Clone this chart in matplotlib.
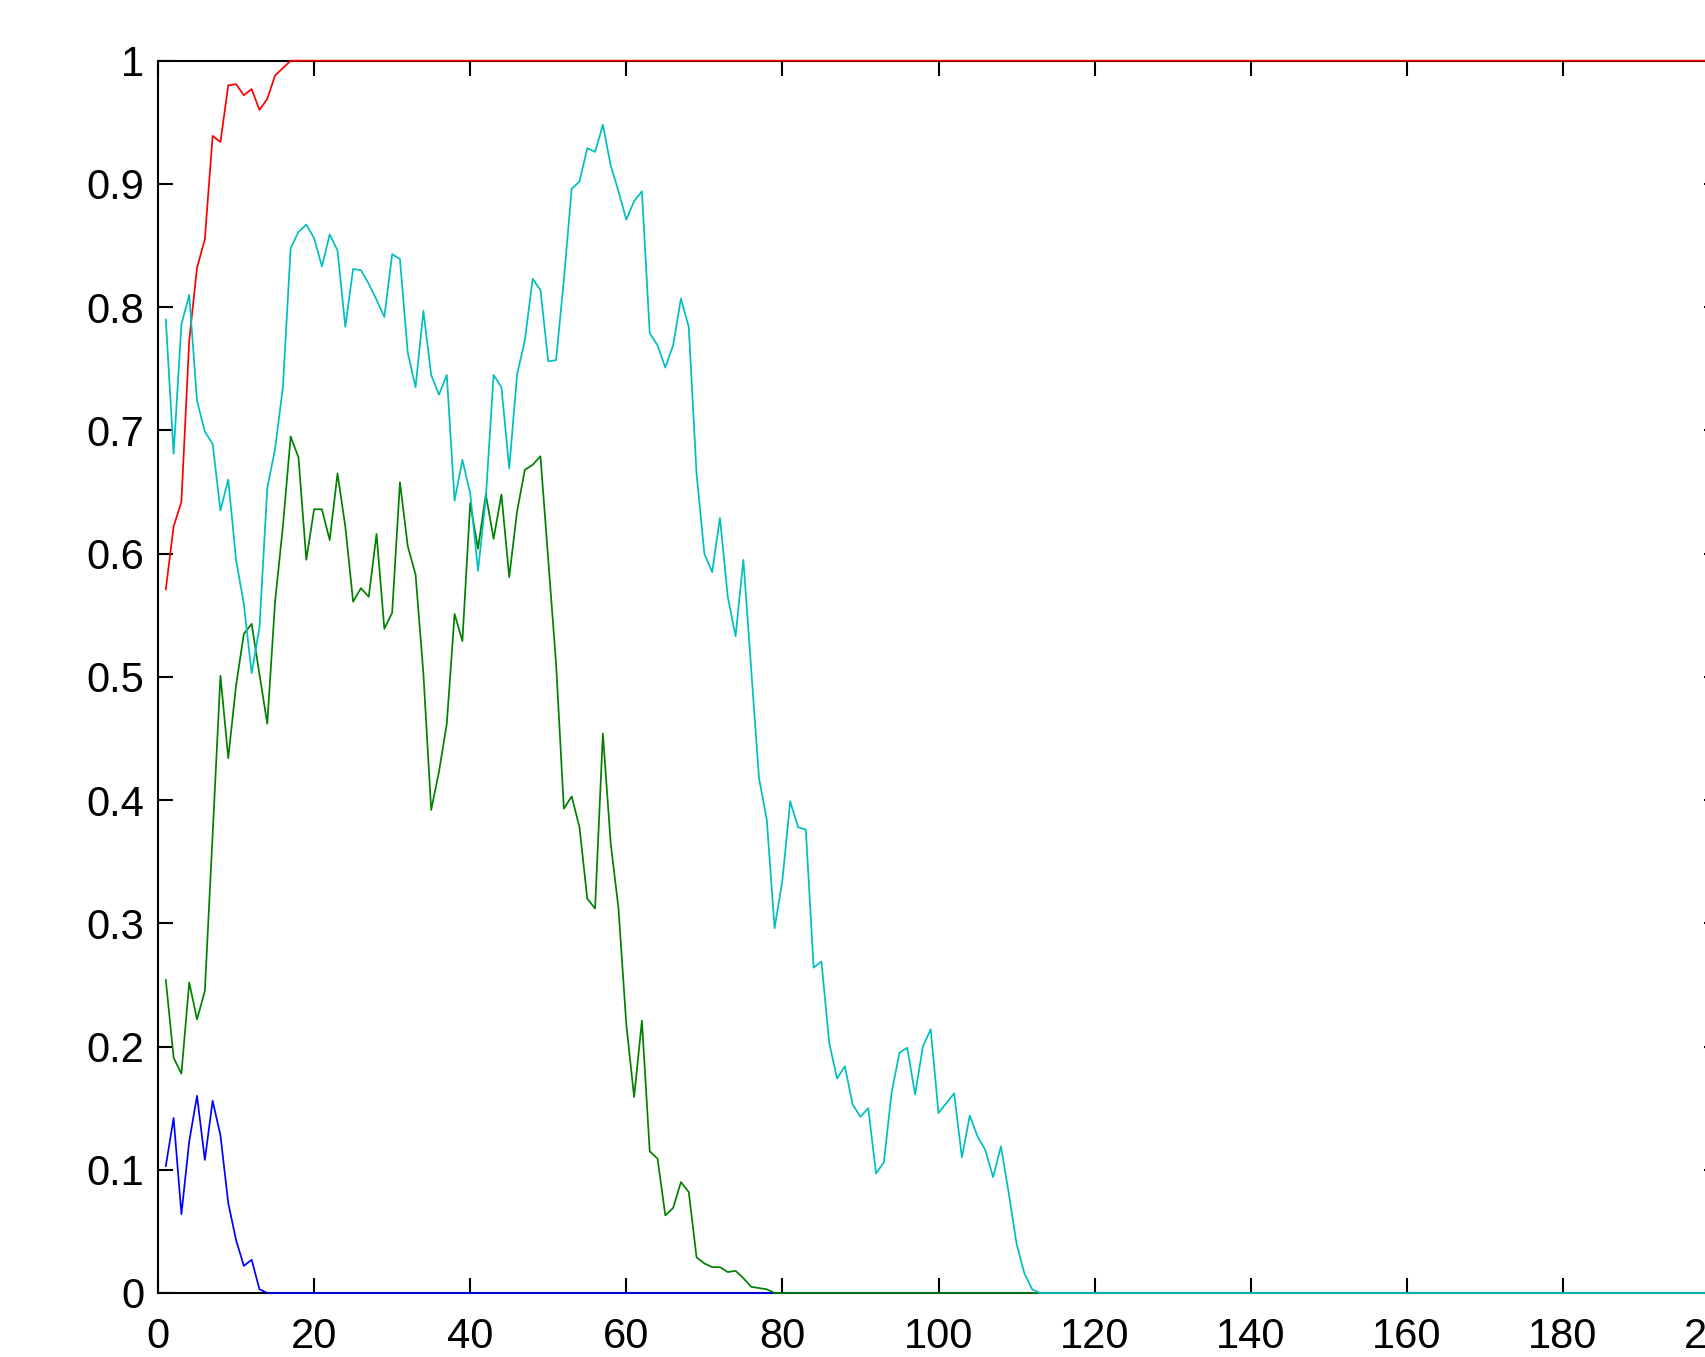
import matplotlib
matplotlib.use("Agg")
import matplotlib.pyplot as plt
from matplotlib.ticker import FuncFormatter, MultipleLocator

N_POINTS = 200

# values, x = 1, 2, 3, ...
red_head = [0.571, 0.622, 0.642, 0.773, 0.832, 0.855, 0.939, 0.934, 0.980,
            0.981, 0.972, 0.977, 0.960, 0.969, 0.988, 0.994]
blue_head = [0.103, 0.142, 0.064, 0.123, 0.160, 0.108, 0.156, 0.128, 0.073,
             0.043, 0.022, 0.027, 0.003]
green_head = [0.254, 0.191, 0.178, 0.252, 0.222, 0.245, 0.372, 0.501, 0.434,
              0.493, 0.535, 0.543, 0.502, 0.462, 0.561, 0.622, 0.695, 0.678,
              0.595, 0.636, 0.636, 0.611, 0.665, 0.622, 0.561, 0.572, 0.565,
              0.616, 0.539, 0.552, 0.658, 0.606, 0.583, 0.503, 0.392, 0.423,
              0.462, 0.551, 0.529, 0.641, 0.604, 0.648, 0.612, 0.648, 0.581,
              0.634, 0.668, 0.672, 0.679, 0.595, 0.511, 0.393, 0.403, 0.378,
              0.320, 0.312, 0.454, 0.365, 0.312, 0.218, 0.159, 0.221, 0.115,
              0.109, 0.063, 0.069, 0.090, 0.082, 0.029, 0.024, 0.021, 0.021,
              0.017, 0.018, 0.012, 0.005, 0.004, 0.003]
cyan_head = [0.790, 0.681, 0.786, 0.810, 0.724, 0.699, 0.689, 0.635, 0.660,
             0.595, 0.559, 0.503, 0.540, 0.653, 0.685, 0.735, 0.848, 0.861,
             0.867, 0.856, 0.833, 0.859, 0.846, 0.784, 0.831, 0.830, 0.819,
             0.806, 0.792, 0.843, 0.839, 0.763, 0.735, 0.797, 0.745, 0.729,
             0.745, 0.643, 0.676, 0.649, 0.586, 0.645, 0.745, 0.735, 0.669,
             0.745, 0.773, 0.823, 0.814, 0.756, 0.757, 0.822, 0.896, 0.902,
             0.929, 0.926, 0.948, 0.915, 0.894, 0.871, 0.886, 0.894, 0.779,
             0.769, 0.751, 0.769, 0.807, 0.784, 0.665, 0.600, 0.585, 0.629,
             0.565, 0.533, 0.595, 0.506, 0.418, 0.384, 0.296, 0.335, 0.399,
             0.378, 0.376, 0.264, 0.269, 0.203, 0.174, 0.184, 0.153, 0.143,
             0.150, 0.097, 0.106, 0.163, 0.195, 0.199, 0.161, 0.200, 0.214,
             0.146, 0.154, 0.162, 0.110, 0.144, 0.127, 0.116, 0.094, 0.119,
             0.081, 0.040, 0.016, 0.003]

# flat tails: red saturates at 1, the rest die out to 0
red = red_head + [1.0] * (N_POINTS - len(red_head))
blue = blue_head + [0.0] * (N_POINTS - len(blue_head))
green = green_head + [0.0] * (N_POINTS - len(green_head))
cyan = cyan_head + [0.0] * (N_POINTS - len(cyan_head))
x = list(range(1, N_POINTS + 1))

# octave default colour order
series = [
    (blue, (0.0, 0.0, 1.0)),
    (green, (0.0, 0.5, 0.0)),
    (red, (1.0, 0.0, 0.0)),
    (cyan, (0.0, 0.75, 0.75)),
]

plt.rcParams["font.family"] = ["Liberation Sans", "DejaVu Sans"]

W, H = 1705, 1357
fig = plt.figure(figsize=(W / 100, H / 100), dpi=100)
# the right edge of the axes sits just past the picture's edge
ax = fig.add_axes([158 / W, 64 / H, 1561 / W, 1232.3 / H])

for values, color in series:
    ax.plot(x, values, color=color, linewidth=1.25, clip_on=False, zorder=3)

ax.set_xlim(0, 200)
ax.set_ylim(0, 1)
ax.xaxis.set_major_locator(MultipleLocator(20))
ax.yaxis.set_major_locator(MultipleLocator(0.1))
ax.yaxis.set_major_formatter(FuncFormatter(lambda v, _: f"{v:g}"))

for spine in ax.spines.values():
    spine.set_linewidth(1.5)
ax.tick_params(direction="in", length=10.5, width=1.5, top=True, right=True,
               labelsize=30)
ax.tick_params(axis="y", pad=10)
ax.tick_params(axis="x", pad=17)

fig.savefig("out.png", dpi=100)
